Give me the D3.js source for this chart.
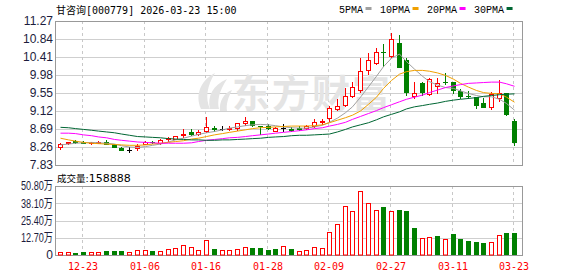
<!DOCTYPE html>
<html>
<head>
<meta charset="utf-8">
<script src="https://cdn.jsdelivr.net/npm/d3@7"></script>
<style>
body { margin: 0; background: #fff; }
svg { display: block; }
</style>
</head>
<body>
<script>
const width = 578
const height = 276

// trading days
const dates = ["12-18","12-19","12-22","12-23","12-24","12-25","12-26","12-29","12-30","12-31",
  "01-05","01-06","01-07","01-08","01-09","01-12","01-13","01-14","01-15","01-16",
  "01-19","01-20","01-21","01-22","01-23","01-26","01-27","01-28","01-29","01-30",
  "02-02","02-03","02-04","02-05","02-06","02-09","02-10","02-11","02-12","02-13",
  "02-24","02-25","02-26","02-27","03-02","03-03","03-04","03-05","03-06","03-09",
  "03-10","03-11","03-12","03-13","03-16","03-17","03-18","03-19","03-20","03-23"];

const open = [8.25,8.36,8.41,8.39,8.35,8.38,8.39,8.32,8.24,8.19,
  8.24,8.34,8.39,8.35,8.46,8.46,8.55,8.63,8.56,8.65,
  8.72,8.70,8.70,8.72,8.83,8.89,8.77,8.77,8.65,8.72,
  8.70,8.71,8.71,8.75,8.87,8.95,9.17,9.26,9.48,9.61,
  10.09,10.26,10.53,10.43,10.74,10.34,9.49,9.80,9.52,9.72,
  9.82,9.81,9.60,9.48,9.45,9.31,9.22,9.43,9.55,8.88];
const high = [8.36,8.38,8.42,8.41,8.39,8.40,8.42,8.33,8.27,8.25,
  8.32,8.40,8.40,8.44,8.49,8.53,8.68,8.70,8.66,8.98,
  8.76,8.75,8.75,8.83,8.98,8.89,8.77,8.80,8.73,8.80,
  8.73,8.75,8.78,8.94,8.94,9.24,9.40,9.68,9.81,10.38,
  10.50,10.62,10.73,10.99,10.93,10.38,9.82,9.81,9.90,9.90,
  10.02,9.82,9.64,9.60,9.46,9.42,9.57,9.86,9.56,8.93];
const low = [8.21,8.32,8.36,8.35,8.34,8.38,8.32,8.26,8.18,8.13,
  8.20,8.33,8.35,8.33,8.41,8.44,8.51,8.54,8.54,8.63,
  8.65,8.67,8.66,8.66,8.79,8.75,8.57,8.68,8.64,8.65,
  8.64,8.66,8.70,8.74,8.82,8.88,9.14,9.24,9.45,9.58,
  10.01,10.24,10.20,10.41,10.16,9.50,9.44,9.50,9.50,9.56,
  9.76,9.56,9.42,9.43,9.18,9.22,9.17,9.37,9.03,8.31];
const close = [8.32,8.38,8.37,8.36,8.38,8.39,8.34,8.27,8.19,8.19,
  8.29,8.39,8.37,8.43,8.48,8.52,8.57,8.58,8.63,8.73,
  8.68,8.70,8.71,8.83,8.89,8.79,8.76,8.72,8.71,8.72,
  8.66,8.70,8.77,8.86,8.89,9.18,9.23,9.49,9.69,10.08,
  10.33,10.54,10.52,10.83,10.18,9.58,9.55,9.58,9.88,9.79,
  9.81,9.61,9.49,9.47,9.26,9.22,9.52,9.54,9.04,8.37];
const prevClose = 8.24;

const volume = [22000,22000,15000,25000,22000,22000,32000,32000,32000,22000,
  37000,37000,32000,32000,42000,49000,71000,61000,34000,110000,
  44000,37000,37000,44000,57000,52000,52000,37000,44000,64000,
  44000,27000,37000,57000,52000,169000,228000,358000,322000,469000,
  380000,329000,353000,322000,331000,324000,199000,123000,130000,140000,
  115000,155000,118000,103000,96000,88000,93000,145000,162000,158888];

const ma5 = [8.31,8.33,8.35,8.36,8.37,8.36,8.35,8.33,8.29,8.26,
  8.25,8.27,8.30,8.33,8.38,8.43,8.47,8.52,8.56,8.60,
  8.63,8.67,8.71,8.74,8.77,8.79,8.80,8.79,8.77,8.74,
  8.72,8.71,8.71,8.74,8.78,8.85,8.95,9.08,9.22,9.45,
  9.70,9.95,10.18,10.38,10.48,10.30,10.12,9.95,9.82,9.74,
  9.68,9.66,9.60,9.54,9.49,9.46,9.46,9.40,9.30,9.14];
const ma10 = [8.47,8.43,8.40,8.37,8.35,8.34,8.33,8.32,8.31,8.30,
  8.30,8.31,8.33,8.35,8.37,8.39,8.41,8.45,8.47,8.51,
  8.55,8.58,8.61,8.64,8.67,8.70,8.72,8.73,8.74,8.75,
  8.76,8.76,8.76,8.77,8.79,8.84,8.90,8.96,9.02,9.12,
  9.28,9.45,9.66,9.85,10.00,10.06,10.09,10.09,10.07,10.03,
  9.97,9.88,9.78,9.69,9.61,9.56,9.54,9.53,9.45,9.33];
const ma20 = [8.59,8.59,8.58,8.55,8.53,8.50,8.48,8.44,8.42,8.40,
  8.38,8.37,8.36,8.35,8.35,8.35,8.35,8.36,8.39,8.42,
  8.44,8.46,8.48,8.49,8.51,8.53,8.55,8.57,8.59,8.61,
  8.63,8.65,8.67,8.70,8.72,8.76,8.80,8.85,8.92,8.99,
  9.06,9.13,9.20,9.27,9.34,9.40,9.45,9.50,9.56,9.62,
  9.68,9.72,9.75,9.78,9.79,9.80,9.81,9.81,9.77,9.71];
const ma30 = [8.73,8.72,8.70,8.68,8.66,8.64,8.62,8.60,8.57,8.54,
  8.51,8.50,8.49,8.48,8.46,8.45,8.44,8.43,8.43,8.42,
  8.42,8.43,8.43,8.44,8.45,8.46,8.47,8.49,8.50,8.51,
  8.53,8.54,8.54,8.55,8.56,8.57,8.62,8.68,8.74,8.79,
  8.84,8.91,8.98,9.04,9.10,9.17,9.22,9.25,9.28,9.31,
  9.35,9.38,9.40,9.42,9.44,9.47,9.49,9.51,9.52,9.53];

const priceTicks = [7.83,8.26,8.69,9.12,9.55,9.98,10.41,10.84,11.27];
const volTicks = [0,127000,254000,381000,508000];
const volTickLabels = ["0","12.70万","25.40万","38.10万","50.80万"];
const dateTicks = ["12-23","01-06","01-16","01-28","02-09","02-27","03-11","03-23"];

const maNames = ["5PMA","10PMA","20PMA","30PMA"];
const maColors = ["#a0a0a0","#f0a000","#ff00ff","#006633"];
const maSeries = [ma5, ma10, ma20, ma30];

const title = "甘咨询[000779] 2026-03-23 15:00";
const volTitle = "成交量:";

const red = "#ff0000", green = "#008000";

const left = 55, right = 522;
const pTop = 21, pBottom = 165, vTop = 186, vBottom = 255;

const svg = d3.select("body").append("svg")
    .attr("width", width)
    .attr("height", height);

const x = d3.scaleBand()
    .domain(dates)
    .range([56.5, 518.5])
    .paddingInner(0.35)
    .paddingOuter(0.175);

const y = d3.scaleLinear().domain([7.83, 11.27]).range([pBottom, pTop]);
const yv = d3.scaleLinear().domain([0, 508000]).range([vBottom, vTop]);

// pixel column of each candle
const col = d => Math.floor(x(d) + x.bandwidth() / 2);
const crisp = v => Math.round(v) + 0.5;

// horizontal grid
svg.append("g").selectAll("line")
    .data(priceTicks.slice(1, -1))
    .enter().append("line")
    .attr("x1", left).attr("x2", right)
    .attr("y1", d => crisp(y(d))).attr("y2", d => crisp(y(d)))
    .attr("stroke", "#cfcfcf");

svg.append("g").selectAll("line")
    .data(volTicks.slice(1, -1))
    .enter().append("line")
    .attr("x1", left).attr("x2", right)
    .attr("y1", d => crisp(yv(d))).attr("y2", d => crisp(yv(d)))
    .attr("stroke", "#cfcfcf");

// vertical dashed grid
[[pTop, pBottom], [vTop, vBottom]].forEach(([a, b]) => {
    svg.append("g").selectAll("line")
        .data(dateTicks)
        .enter().append("line")
        .attr("x1", d => col(d) - 0.5).attr("x2", d => col(d) - 0.5)
        .attr("y1", a).attr("y2", b)
        .attr("stroke", "#c8c8c8")
        .attr("stroke-dasharray", "3,3");
});

// watermark
const wm = svg.append("g").attr("fill", "#e4e4e4");
wm.append("path").attr("d", "M201,109 C195,95 200,81 215,73 C207,86 205,98 210,109 Z");
wm.append("path").attr("d", "M210,109 C207,96 213,85 227,79 C219,91 217,101 219,109 Z");
wm.append("path").attr("d", "M220,111 C219,101 224,93 232,90 C228,98 226,104 227,111 Z");
wm.append("text")
    .attr("x", 232).attr("y", 107)
    .attr("font-family", "Noto Sans CJK SC")
    .attr("font-weight", "bold")
    .attr("font-size", 38)
    .attr("letter-spacing", 2)
    .text("东方财富");

// borders
svg.append("rect")
    .attr("x", left + 0.5).attr("y", pTop + 0.5)
    .attr("width", right - left).attr("height", pBottom - pTop)
    .attr("fill", "none").attr("stroke", "#999");
svg.append("rect")
    .attr("x", left + 0.5).attr("y", vTop + 0.5)
    .attr("width", right - left).attr("height", vBottom - vTop)
    .attr("fill", "none").attr("stroke", "#999");

const idx = d3.range(dates.length);
const candleColor = i => close[i] > open[i] ? red : (close[i] < open[i] ? green : "#000");

// candles
const candles = svg.append("g");
candles.selectAll("line")
    .data(idx)
    .enter().append("line")
    .attr("x1", i => col(dates[i]) + 0.5).attr("x2", i => col(dates[i]) + 0.5)
    .attr("y1", i => Math.round(y(high[i]))).attr("y2", i => Math.round(y(low[i])) + 1)
    .attr("stroke", candleColor);

candles.selectAll("rect")
    .data(idx)
    .enter().append("rect")
    .each(function(i) {
        const c = col(dates[i]);
        const t = Math.round(y(Math.max(open[i], close[i])));
        const b = Math.round(y(Math.min(open[i], close[i])));
        const r = d3.select(this);
        if (close[i] > open[i]) {
            r.attr("x", c - 1.5).attr("y", t + 0.5)
             .attr("width", 4).attr("height", Math.max(1, b - t))
             .attr("fill", "#fff").attr("stroke", red);
        } else {
            r.attr("x", c - 2).attr("y", t)
             .attr("width", 5).attr("height", Math.max(1, b - t + 1))
             .attr("fill", candleColor(i));
        }
    });

// moving averages
const line = d3.line()
    .x((v, i) => col(dates[i]) + 0.5)
    .y(v => y(v));

svg.append("g").selectAll("path")
    .data(maSeries)
    .enter().append("path")
    .attr("d", d => line(d))
    .attr("fill", "none")
    .attr("stroke", (d, i) => maColors[i])
    .attr("stroke-width", 1);

// volume bars
const volUp = i => close[i] >= (i === 0 ? prevClose : close[i - 1]);
svg.append("g").selectAll("rect")
    .data(idx)
    .enter().append("rect")
    .each(function(i) {
        const c = col(dates[i]);
        const t = Math.round(yv(volume[i]));
        const r = d3.select(this);
        if (volUp(i)) {
            r.attr("x", c - 1.5).attr("y", t + 0.5)
             .attr("width", 4).attr("height", vBottom - t - 0.5)
             .attr("fill", "#fff").attr("stroke", red);
        } else {
            r.attr("x", c - 2).attr("y", t)
             .attr("width", 5).attr("height", vBottom - t)
             .attr("fill", green);
        }
    });

// price axis labels
svg.append("g").selectAll("text")
    .data(priceTicks)
    .enter().append("text")
    .attr("x", 53).attr("y", d => y(d))
    .attr("dy", "0.36em")
    .attr("text-anchor", "end")
    .attr("font-family", "Liberation Sans, Arial, sans-serif")
    .attr("font-size", 12)
    .attr("fill", "#1c1c3c")
    .text(d => d.toFixed(2));

// volume axis labels
svg.append("g").selectAll("text")
    .data(volTicks)
    .enter().append("text")
    .attr("x", 53).attr("y", d => yv(d))
    .attr("dy", "0.36em")
    .attr("text-anchor", "end")
    .attr("font-family", "Liberation Sans, Arial, Noto Sans CJK SC, sans-serif")
    .attr("font-size", 12)
    .attr("fill", "#1c1c3c")
    .each(function(d, i) {
        const t = d3.select(this).text(volTickLabels[i]);
        if (i > 0) t.attr("textLength", 32).attr("lengthAdjust", "spacingAndGlyphs");
    });

// date labels
svg.append("g").selectAll("text")
    .data(dateTicks)
    .enter().append("text")
    .attr("x", d => col(d))
    .attr("y", 269.5)
    .attr("text-anchor", "middle")
    .attr("font-family", "DejaVu Sans Mono, monospace")
    .attr("font-size", 10)
    .attr("fill", red)
    .text(d => d);

// title
svg.append("text")
    .attr("x", 56).attr("y", 13.5)
    .attr("font-family", "DejaVu Sans Mono, Noto Sans CJK SC, monospace")
    .attr("font-size", 10)
    .attr("fill", "#000")
    .text(title);

// volume title
const vt = svg.append("text")
    .attr("x", 57).attr("y", 181.5)
    .attr("font-family", "DejaVu Sans, Noto Sans CJK SC, sans-serif")
    .attr("fill", "#000");
vt.append("tspan").attr("font-size", 9.5).text(volTitle);
vt.append("tspan").attr("font-size", 11).text(volume[volume.length - 1]);

// legend
const legend = svg.append("g");
let lx = 339;
maNames.forEach((name, i) => {
    const t = legend.append("text")
        .attr("x", lx).attr("y", 12.5)
        .attr("font-family", "Liberation Mono, monospace")
        .attr("font-size", 10)
        .attr("fill", "#000")
        .text(name);
    const w = t.node().getComputedTextLength();
    legend.append("rect")
        .attr("x", lx + w + 2.5).attr("y", 7)
        .attr("width", 6).attr("height", 3)
        .attr("fill", maColors[i]);
    lx += w + 17;
});
</script>
</body>
</html>
